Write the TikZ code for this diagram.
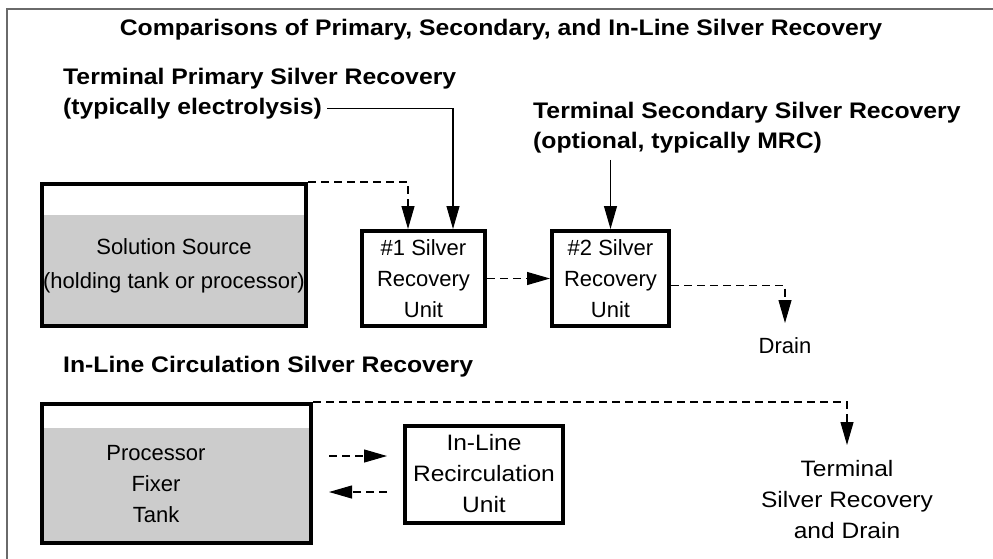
\documentclass[tikz,border=0pt]{standalone}
\usepackage{fontspec}
\setmainfont{Liberation Sans}
\newfontfamily\headfont[FakeStretch=1.1]{Liberation Sans}
\newfontfamily\widefont[FakeStretch=1.1]{Liberation Sans}
\usetikzlibrary{arrows.meta}
\definecolor{liquid}{HTML}{CCCCCC}
\definecolor{framegray}{HTML}{6A6A6A}
\begin{document}
\begin{tikzpicture}[x=1pt,y=-1pt,
  head/.style={font=\headfont\fontsize{22.5}{30}\selectfont\bfseries, inner sep=0pt},
  body/.style={font=\fontsize{22}{31}\selectfont, align=center},
  widebody/.style={font=\widefont\fontsize{22.3}{31}\selectfont, align=center},
  unitbox/.style={draw, line width=4pt, inner sep=0pt},
  tank/.style={draw, line width=4pt, inner sep=0pt,
    path picture={\fill[liquid] (path picture bounding box.south west)
      rectangle ([yshift=-#1]path picture bounding box.north east);}},
  flow/.style={line width=1.1pt, dash pattern=on 8pt off 5pt,
    -{Triangle[length=23pt,width=13pt]}},
  feed/.style={line width=1.1pt, -{Triangle[length=23pt,width=13pt]}},
]
\useasboundingbox (0,0) rectangle (993,558);

% outer frame (only its top and left edges fall inside the page)
\draw[framegray, line width=2pt] (7,580) -- (7,9) -- (1010,9);

% headings
\node[head, anchor=base] (title) at (501,35)
  {Comparisons of Primary, Secondary, and In-Line Silver Recovery};
\node[head, anchor=base west] (sub1a) at (63,84) {Terminal Primary Silver Recovery};
\node[head, anchor=base west] (sub1b) at (63,114) {(typically electrolysis)};
\node[head, anchor=base west] (sub2a) at (533,118) {Terminal Secondary Silver Recovery};
\node[head, anchor=base west] (sub2b) at (533,148) {(optional, typically MRC)};
\node[head, anchor=base west] (sub3) at (63,372) {In-Line Circulation Silver Recovery};

% terminal recovery chain
\node[tank=31pt, minimum width=264pt, minimum height=142pt] (src) at (174,255) {};
\node[body, font=\fontsize{22}{34}\selectfont] (srctxt) at (174,266)
  {Solution Source\\(holding tank or processor)};
\node[unitbox, body, minimum width=123pt, minimum height=95pt] (u1) at (423.5,278.5)
  {\#1 Silver\\Recovery\\Unit};
\node[unitbox, body, minimum width=117pt, minimum height=95pt] (u2) at (610.5,278.5)
  {\#2 Silver\\Recovery\\Unit};
\node[body, anchor=north, inner sep=0pt] (drain) at (785,337) {Drain};

\coordinate (dropA) at (408,0);
\coordinate (dropB) at (453,0);

\draw[flow] (src.north east) -| (u1.north -| dropA);
\draw[feed, shorten <=5pt] (sub1b.east) -| (u1.north -| dropB);
\draw[feed, shorten <=7pt] (u2.north |- sub2b.south) -- (u2.north);
\draw[flow] (u1) -- (u2);
\draw[flow] ([yshift=-7pt]u2.east) -| ([yshift=14pt]drain.north);

% in-line recirculation
\node[tank=24pt, minimum width=269pt, minimum height=139pt] (fix) at (176.5,473.5) {};
\node[body] (fixtxt) at (156,484) {Processor\\Fixer\\Tank};
\node[unitbox, widebody, minimum width=158pt, minimum height=97pt] (u3) at (484,474)
  {In-Line\\Recirculation\\Unit};
\node[widebody, anchor=north, inner sep=0pt] (term) at (847,460)
  {Terminal\\Silver Recovery\\and Drain};

\draw[flow] (fix.north east) -| ([yshift=15pt]term.north);
\draw[flow, shorten <=16pt, shorten >=16pt] (fix.east |- 0,456) -- (u3.west |- 0,456);
\draw[flow, shorten <=16pt, shorten >=16pt] (u3.west |- 0,492) -- (fix.east |- 0,492);
\end{tikzpicture}
\end{document}
